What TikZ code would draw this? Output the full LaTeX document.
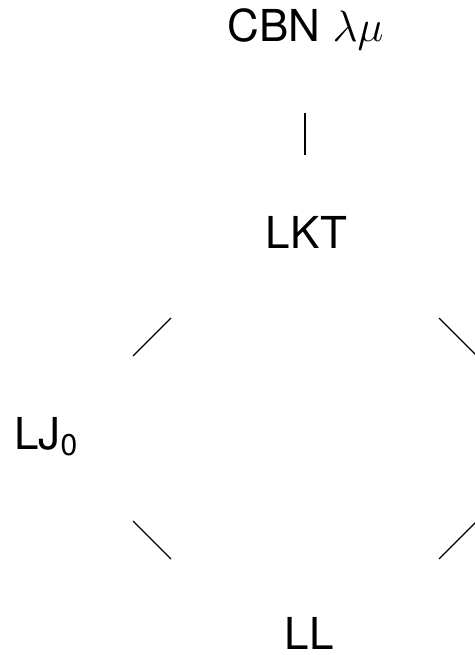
\documentclass[tikz,border=0pt]{standalone}
\usepackage{fix-cm}
\usepackage{fontspec}
\setmainfont{TeX Gyre Heros}
\begin{document}
\begin{tikzpicture}[x=1pt,y=-1pt,
  lbl/.style={anchor=base,inner sep=0pt,font=\fontsize{44}{53}\selectfont},
  edge/.style={line width=1.2pt}]
\useasboundingbox (0,0) rectangle (474,655);
\node[lbl] (cbn) at (305.5,42) {CBN $\lambda\mu$};
\node[lbl] (lkt) at (306.5,248) {LKT};
\node[lbl,anchor=base west] (lj) at (14,449) {LJ\raisebox{-6pt}{\fontsize{30}{30}\selectfont 0}};
\node[lbl] (ll) at (309,649) {LL};
\coordinate (v1) at (305,113);
\coordinate (v2) at (305,155);
\coordinate (ul1) at (133,356);
\coordinate (ul2) at (171,318);
\coordinate (ur1) at (439,318);
\coordinate (ur2) at (477,356);
\coordinate (ll1) at (133,521);
\coordinate (ll2) at (171,559);
\coordinate (lr1) at (439,559);
\coordinate (lr2) at (477,521);
\draw[edge] (v1) -- (v2);
\draw[edge] (ul1) -- (ul2);
\draw[edge] (ur1) -- (ur2);
\draw[edge] (ll1) -- (ll2);
\draw[edge] (lr1) -- (lr2);
\end{tikzpicture}
\end{document}
